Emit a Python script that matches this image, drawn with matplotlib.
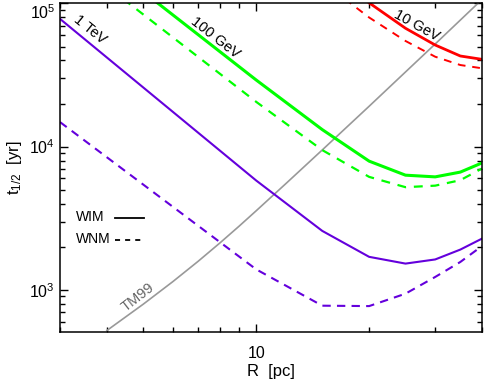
import numpy as np
import matplotlib
matplotlib.use("Agg")
import matplotlib.pyplot as plt
from matplotlib.ticker import NullFormatter, LogLocator, FixedLocator

plt.rcParams['font.family'] = ['Liberation Sans', 'DejaVu Sans']
plt.rcParams['mathtext.default'] = 'regular'

# radius grid [pc]
R = [3, 10, 15, 20, 25, 30, 35, 40]

# half-life curves, WIM (solid) and WNM (dashed)
tev_wim = [78000, 5800, 2580, 1700, 1525, 1630, 1910, 2280]
tev_wnm = [14840, 1390, 775, 770, 940, 1230, 1565, 2024]
gev100_wim = [343000, 29200, 13150, 7920, 6320, 6150, 6640, 7700]
gev100_wnm = [236000, 20550, 9460, 6150, 5210, 5340, 5830, 7040]
R_red = [15, 20, 25, 30, 35, 40]
gev10_wim = [180000, 101000, 67100, 51250, 42950, 40700]
gev10_wnm = [141900, 79800, 54700, 42450, 37150, 35230]

# TM99 reference curve
R_tm = [4, 5, 6, 7, 8, 9, 10, 12, 15, 20, 30, 40]
t_tm = [520, 794, 1143, 1581, 2123, 2780, 3565, 5520, 9480, 19140, 52100, 106700]

x_ticks = [10]
x_ticklabels = ['10']

purple = '#6400dc'
green = '#00ff00'
red = '#ff0000'
gray = '#999999'


def main():
    fig = plt.figure(figsize=(4.84, 3.82), dpi=100)
    ax = fig.add_axes([0.124, 0.131, 0.872, 0.860])

    ax.plot(R_tm, t_tm, color=gray, lw=1.2)
    ax.plot(R, tev_wim, color=purple, lw=1.5)
    ax.plot(R, tev_wnm, color=purple, lw=1.5, ls=(0, (4, 3)))
    ax.plot(R, gev100_wim, color=green, lw=2.2)
    ax.plot(R, gev100_wnm, color=green, lw=1.6, ls=(0, (4, 3.5)))
    ax.plot(R_red, gev10_wim, color=red, lw=2.0)
    ax.plot(R_red, gev10_wnm, color=red, lw=1.4, ls=(0, (4, 3.5)))

    ax.set_xscale('log')
    ax.set_yscale('log')
    ax.set_xlim(3, 40)
    ax.set_ylim(508, 1e5)

    ax.set_xticks(x_ticks)
    ax.set_xticklabels(x_ticklabels)
    ax.xaxis.set_minor_locator(LogLocator(base=10, subs=np.arange(2, 10)))
    ax.xaxis.set_minor_formatter(NullFormatter())
    ax.yaxis.set_minor_formatter(NullFormatter())
    ax.yaxis.set_major_locator(FixedLocator([1e3, 1e4, 1e5]))
    ax.yaxis.set_minor_locator(LogLocator(base=10, subs=np.arange(2, 10)))
    ax.tick_params(which='both', direction='in', top=True, right=True,
                   labelsize=11.5)
    ax.tick_params(which='major', length=6, width=1)
    ax.tick_params(which='minor', length=3.5, width=1)
    ax.tick_params(axis='x', which='both', pad=10)
    for s in ax.spines.values():
        s.set_linewidth(1.1)

    ax.set_xlabel('R  [pc]', fontsize=12, labelpad=2)
    ax.set_ylabel('t$_{1/2}$  [yr]', fontsize=12, labelpad=4)

    ax.text(3.61, 65300, '1 TeV', rotation=-39, ha='center', va='center',
            fontsize=10.5)
    ax.text(7.76, 57400, '100 GeV', rotation=-38, ha='center', va='center',
            fontsize=10.5)
    ax.text(26.7, 69600, '10 GeV', rotation=-29, ha='center', va='center',
            fontsize=10.5)
    ax.text(4.83, 887, 'TM99', rotation=38, ha='center', va='center',
            fontsize=10.5, color='#666666')

    # line-style key
    ax.text(0.038, 0.349, 'WIM', transform=ax.transAxes, fontsize=10,
            va='center', ha='left')
    ax.text(0.038, 0.282, 'WNM', transform=ax.transAxes, fontsize=10,
            va='center', ha='left')
    ax.plot([0.13, 0.199], [0.347, 0.347], transform=ax.transAxes,
            color='k', lw=1.3)
    ax.plot([0.13, 0.199], [0.280, 0.280], transform=ax.transAxes,
            color='k', lw=1.3, ls=(0, (2.8, 2.8)))

    fig.canvas.draw()
    for lbl in ax.get_yticklabels():
        if '5' in lbl.get_text():
            lbl.set_verticalalignment('top')

    fig.savefig('out.png', dpi=100)


if __name__ == '__main__':
    main()
